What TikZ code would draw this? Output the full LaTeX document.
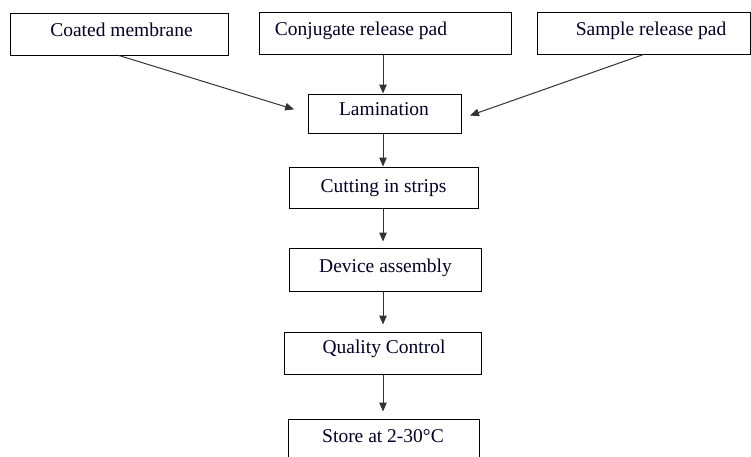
\documentclass[tikz,border=0pt]{standalone}
\usepackage{fontspec}
\setmainfont{Liberation Serif}
\usetikzlibrary{arrows.meta,calc}
\begin{document}
\begin{tikzpicture}[x=1pt,y=-1pt,
  box/.style={draw=black,line width=1pt,rectangle,inner sep=0pt},
  lbl/.style={anchor=base,inner sep=0pt,font=\fontsize{19.5}{22}\selectfont,text=black!85!blue},
  arr/.style={draw=black!80,line width=1pt,-{Triangle[length=9pt,width=7.5pt]}}]
\clip (0,0) rectangle (751,456);
\fill[white] (0,0) rectangle (751,456);
% boxes
\node[box,minimum width=218pt,minimum height=42pt] (coat) at (119,34) {};
\node[box,minimum width=252pt,minimum height=42pt] (conj) at (385,33) {};
\node[box,minimum width=213pt,minimum height=42pt] (samp) at (643.5,33) {};
\node[box,minimum width=153pt,minimum height=39pt] (lam) at (384.5,113.5) {};
\node[box,minimum width=189pt,minimum height=41pt] (cut) at (383.5,187.5) {};
\node[box,minimum width=192pt,minimum height=43pt] (dev) at (385,269.5) {};
\node[box,minimum width=197pt,minimum height=42pt] (qc) at (382.5,353) {};
\node[box,minimum width=191pt,minimum height=43pt] (store) at (383.5,440.5) {};
% labels
\node[lbl] (tcoat) at (121.5,36) {Coated membrane};
\node[lbl] (tconj) at (361,35) {Conjugate release pad};
\node[lbl] (tsamp) at (651,35) {Sample release pad};
\node[lbl] (tlam) at (384,115) {Lamination};
\node[lbl] (tcut) at (383.5,192) {Cutting in strips};
\node[lbl] (tdev) at (385.5,272) {Device assembly};
\node[lbl] (tqc) at (384,353) {Quality Control};
\node[lbl] (tstore) at (383,442) {Store at 2-30\textdegree C};
% connectors
\draw[arr,shorten >=14pt] (coat.south) -- (lam.west);
\draw[arr,shorten >=9pt] (samp.south) -- ($(lam.east)+(0,5)$);
\draw[arr] (conj.south -| 383,0) -- (lam.north -| 383,0);
\draw[arr] (lam.south -| 383,0) -- (cut.north -| 383,0);
\draw[arr,shorten >=6pt] (cut.south -| 383,0) -- (dev.north -| 383,0);
\draw[arr,shorten >=7pt] (dev.south -| 383,0) -- (qc.north -| 383,0);
\draw[arr,shorten >=7pt] (qc.south -| 383,0) -- (store.north -| 383,0);
\end{tikzpicture}
\end{document}
